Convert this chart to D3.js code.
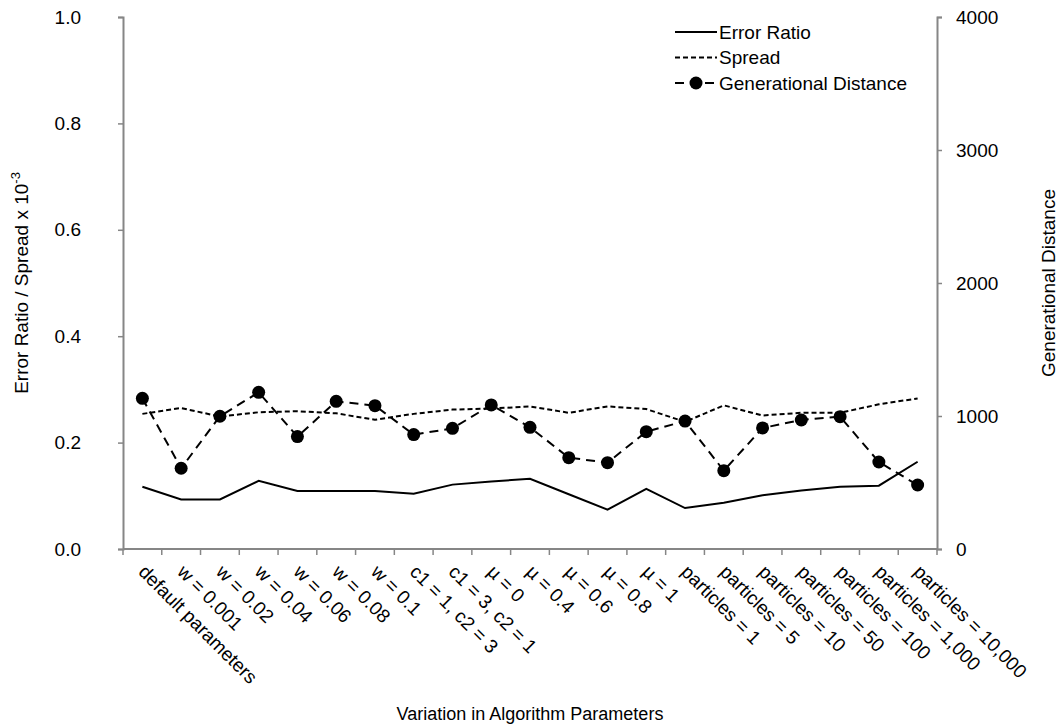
<!DOCTYPE html>
<html>
<head>
<meta charset="utf-8">
<script src="https://cdn.jsdelivr.net/npm/d3@7"></script>
<style>
  body { margin: 0; background: #fff; }
  svg text { font-family: "Liberation Sans", Arial, sans-serif; fill: #000; }
</style>
</head>
<body>
<svg id="chart" width="1060" height="726"></svg>
<script>
// Parameter variations tested
const categories = [
  "default parameters", "w = 0.001", "w = 0.02", "w = 0.04", "w = 0.06", "w = 0.08", "w = 0.1",
  "c1 = 1, c2 = 3", "c1 = 3, c2 = 1", "\u00b5 = 0", "\u00b5 = 0.4", "\u00b5 = 0.6", "\u00b5 = 0.8", "\u00b5 = 1",
  "particles = 1", "particles = 5", "particles = 10", "particles = 50", "particles = 100",
  "particles = 1,000", "particles = 10,000"
];
// Left axis series
const errorRatio = [0.117, 0.093, 0.093, 0.128, 0.109, 0.109, 0.109, 0.104, 0.121, 0.127, 0.132,
  0.103, 0.074, 0.113, 0.077, 0.087, 0.101, 0.110, 0.117, 0.119, 0.164];
const spread = [0.254, 0.265, 0.249, 0.257, 0.259, 0.255, 0.243, 0.254, 0.262, 0.264, 0.268,
  0.256, 0.268, 0.263, 0.239, 0.270, 0.251, 0.256, 0.256, 0.272, 0.283];
// Right axis series
const generationalDistance = [1133, 607, 998, 1178, 845, 1110, 1078, 860, 907, 1083, 915,
  687, 649, 882, 962, 589, 910, 970, 995, 654, 481];
const leftTicks = [0, 0.2, 0.4, 0.6, 0.8, 1.0];
const rightTicks = [0, 1000, 2000, 3000, 4000];

const svg = d3.select("#chart");
const m = { left: 123, right: 937, top: 17, bottom: 549 };
const axisColor = "#868686";
const fontSize = 19;

const x = d3.scaleBand().domain(categories).range([m.left, m.right]).padding(0);
const yL = d3.scaleLinear().domain([0, 1]).range([m.bottom, m.top]);
const yR = d3.scaleLinear().domain([0, 4000]).range([m.bottom, m.top]);
const cx = d => x(d) + x.bandwidth() / 2;

// Left axis
const gL = svg.append("g").attr("transform", `translate(${m.left},0)`)
  .call(d3.axisLeft(yL).tickValues(leftTicks).tickFormat(d3.format(".1f")).tickSizeOuter(0).tickSize(5).tickPadding(37));
// Right axis
const gR = svg.append("g").attr("transform", `translate(${m.right},0)`)
  .call(d3.axisRight(yR).tickValues(rightTicks).tickFormat(d3.format("d")).tickSizeOuter(0).tickSize(5).tickPadding(14));
// Bottom axis with ticks at category boundaries
const gB = svg.append("g").attr("transform", `translate(0,${m.bottom})`);
gB.append("line").attr("x1", m.left).attr("x2", m.right).attr("y1", 0).attr("y2", 0)
  .attr("stroke", axisColor).attr("stroke-width", 2);
gB.selectAll("line.tick").data(d3.range(categories.length + 1)).join("line")
  .attr("class", "tick")
  .attr("x1", i => m.left + i * x.bandwidth()).attr("x2", i => m.left + i * x.bandwidth())
  .attr("y1", 0).attr("y2", 6).attr("stroke", axisColor).attr("stroke-width", 1.5);
gB.selectAll("text").data(categories).join("text")
  .attr("transform", d => `translate(${cx(d) - 5},${24}) rotate(45)`)
  .attr("text-anchor", "start")
  .style("font-size", fontSize + "px")
  .text(d => d);

[gL, gR].forEach(g => {
  g.select(".domain").attr("stroke", axisColor).attr("stroke-width", 2);
  g.selectAll(".tick line").attr("stroke", axisColor).attr("stroke-width", 1.5);
  g.selectAll(".tick text").style("font-size", fontSize + "px").attr("fill", "#000");
});

// Series lines
const lineL = d3.line().x((d, i) => cx(categories[i])).y(d => yL(d));
const lineR = d3.line().x((d, i) => cx(categories[i])).y(d => yR(d));

svg.append("path").datum(spread).attr("d", lineL)
  .attr("fill", "none").attr("stroke", "#000").attr("stroke-width", 2).attr("stroke-dasharray", "5,3");
svg.append("path").datum(errorRatio).attr("d", lineL)
  .attr("fill", "none").attr("stroke", "#000").attr("stroke-width", 2);
svg.append("path").datum(generationalDistance).attr("d", lineR)
  .attr("fill", "none").attr("stroke", "#000").attr("stroke-width", 2).attr("stroke-dasharray", "9,6");
svg.selectAll("circle.gd").data(generationalDistance).join("circle")
  .attr("class", "gd")
  .attr("cx", (d, i) => cx(categories[i])).attr("cy", d => yR(d)).attr("r", 6.5).attr("fill", "#000");

// Axis titles
svg.append("text").attr("transform", `translate(28,${(m.top + m.bottom) / 2}) rotate(-90)`)
  .attr("text-anchor", "middle").style("font-size", fontSize + "px")
  .html('Error Ratio / Spread x 10<tspan dy="-8" font-size="13px">-3</tspan>');
svg.append("text").attr("transform", `translate(1055,${(m.top + m.bottom) / 2}) rotate(-90)`)
  .attr("text-anchor", "middle").style("font-size", fontSize + "px")
  .text("Generational Distance");
svg.append("text").attr("x", 530).attr("y", 720).attr("text-anchor", "middle")
  .style("font-size", "18px").text("Variation in Algorithm Parameters");

// Legend
const legend = [
  { name: "Error Ratio", dash: null, marker: false },
  { name: "Spread", dash: "5,3", marker: false },
  { name: "Generational Distance", dash: "9,6", marker: true }
];
const lg = svg.append("g").attr("transform", "translate(675,32)");
legend.forEach((d, i) => {
  const g = lg.append("g").attr("transform", `translate(0,${i * 25.5})`);
  g.append("line").attr("x1", 0).attr("x2", 42).attr("y1", 0).attr("y2", 0)
    .attr("stroke", "#000").attr("stroke-width", 2).attr("stroke-dasharray", d.dash);
  if (d.marker) g.append("circle").attr("cx", 21).attr("cy", 0).attr("r", 6.5).attr("fill", "#000");
  g.append("text").attr("x", 44).attr("y", 0).attr("dy", "0.35em")
    .style("font-size", fontSize + "px").text(d.name);
});
</script>
</body>
</html>
